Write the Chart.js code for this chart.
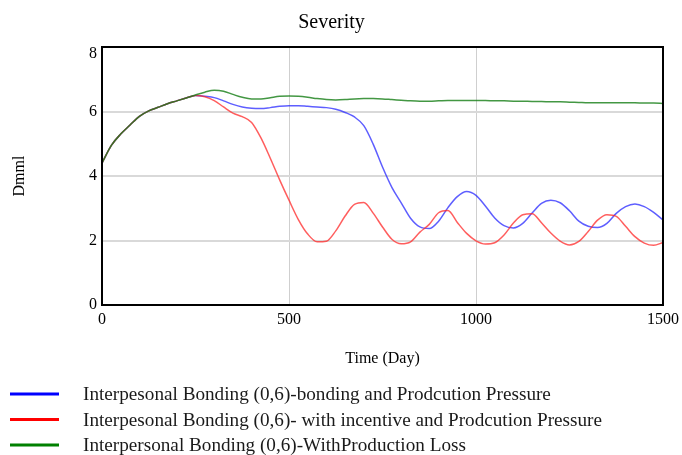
<!DOCTYPE html>
<html>
<head>
<meta charset="utf-8">
<title>Severity</title>
<script src="https://cdn.jsdelivr.net/npm/chart.js@4.4.1/dist/chart.umd.min.js"></script>
<style>
  html, body { margin: 0; padding: 0; background: #ffffff; }
  #wrap { width: 682px; height: 455px; }
</style>
</head>
<body>
<div id="wrap"><canvas id="chart" width="682" height="455"></canvas></div>
<script>
// Simulation time, every 25 days
const days = [
  0, 25, 50, 75, 100, 125, 150, 175, 200, 225,
  250, 275, 300, 325, 350, 375, 400, 425, 450, 475,
  500, 525, 550, 575, 600, 625, 650, 675, 700, 725,
  750, 775, 800, 825, 850, 875, 900, 925, 950, 975,
  1000, 1025, 1050, 1075, 1100, 1125, 1150, 1175, 1200, 1225,
  1250, 1275, 1300, 1325, 1350, 1375, 1400, 1425, 1450, 1475,
  1500
];

// Severity (Dmnl) per scenario
const bondingPressure = [
  4.40, 4.95, 5.30, 5.58, 5.85, 6.02, 6.13, 6.24, 6.33, 6.42,
  6.50, 6.47, 6.43, 6.33, 6.22, 6.14, 6.10, 6.09, 6.12, 6.16,
  6.18, 6.18, 6.16, 6.14, 6.12, 6.07, 5.97, 5.83, 5.56, 4.99,
  4.28, 3.65, 3.17, 2.69, 2.42, 2.37, 2.60, 3.02, 3.36, 3.52,
  3.40, 3.07, 2.70, 2.46, 2.39, 2.53, 2.85, 3.15, 3.25, 3.17,
  2.92, 2.60, 2.44, 2.40, 2.53, 2.84, 3.05, 3.13, 3.05, 2.87,
  2.64
];

const incentivePressure = [
  4.40, 4.95, 5.30, 5.58, 5.85, 6.02, 6.13, 6.24, 6.33, 6.42,
  6.50, 6.46, 6.34, 6.14, 5.95, 5.84, 5.66, 5.18, 4.55, 3.88,
  3.25, 2.65, 2.20, 1.96, 1.98, 2.30, 2.76, 3.12, 3.18, 2.85,
  2.42, 2.04, 1.90, 1.96, 2.26, 2.50, 2.86, 2.93, 2.56, 2.22,
  1.99, 1.89, 1.93, 2.17, 2.54, 2.80, 2.83, 2.55, 2.23, 1.98,
  1.86, 1.97, 2.28, 2.63, 2.80, 2.75, 2.44, 2.12, 1.92, 1.85,
  1.94
];

const productionLoss = [
  4.40, 4.95, 5.30, 5.58, 5.85, 6.02, 6.13, 6.24, 6.33, 6.42,
  6.51, 6.60, 6.66, 6.63, 6.53, 6.44, 6.39, 6.39, 6.43, 6.47,
  6.48, 6.47, 6.44, 6.40, 6.37, 6.36, 6.37, 6.39, 6.40, 6.40,
  6.39, 6.37, 6.35, 6.33, 6.32, 6.32, 6.33, 6.34, 6.34, 6.34,
  6.34, 6.34, 6.33, 6.33, 6.32, 6.32, 6.31, 6.31, 6.30, 6.30,
  6.29, 6.28, 6.27, 6.27, 6.27, 6.27, 6.27, 6.27, 6.26, 6.26,
  6.25
];

const seriesLabels = [
  'Interpesonal Bonding (0,6)-bonding and Prodcution Pressure',
  'Interpesonal Bonding (0,6)- with incentive and Prodcution Pressure',
  'Interpersonal Bonding (0,6)-WithProduction Loss'
];

const xTicks = [0, 500, 1000, 1500];
const yTicks = [0, 2, 4, 6, 8];

const lineColors = ['rgba(40,40,255,0.75)', 'rgba(255,40,40,0.75)', 'rgba(20,125,20,0.8)'];
const keyColors = ['#0000ff', '#ff0000', '#008000'];
// green on top, blue underneath
const drawOrder = [2, 1, 0];

const serif = '"Liberation Serif", "Times New Roman", serif';

function toPoints(values) {
  return days.map((d, i) => ({ x: d, y: values[i] }));
}

// Boxed plot frame drawn over the curves
const framePlugin = {
  id: 'plotFrame',
  afterDatasetsDraw(chart) {
    const { ctx, chartArea: a } = chart;
    ctx.save();
    ctx.strokeStyle = '#000000';
    ctx.lineWidth = 2;
    ctx.strokeRect(a.left, a.top, a.right - a.left, a.bottom - a.top);
    ctx.restore();
  }
};

// Stacked key beneath the axis title
const keyPlugin = {
  id: 'stackedKey',
  afterDraw(chart) {
    const ctx = chart.ctx;
    ctx.save();
    chart.data.datasets.forEach((ds, i) => {
      const y = 394 + i * 25.5;
      ctx.strokeStyle = keyColors[i];
      ctx.lineWidth = 3;
      ctx.beginPath();
      ctx.moveTo(10, y);
      ctx.lineTo(59, y);
      ctx.stroke();
      ctx.fillStyle = '#1a1a1a';
      ctx.font = '19.2px ' + serif;
      ctx.textBaseline = 'middle';
      ctx.textAlign = 'left';
      ctx.fillText(ds.label, 83, y + 1);
    });
    ctx.restore();
  }
};

const datasets = [bondingPressure, incentivePressure, productionLoss].map((vals, i) => ({
  label: seriesLabels[i],
  data: toPoints(vals),
  borderColor: lineColors[i],
  backgroundColor: lineColors[i],
  borderWidth: 1.5,
  pointRadius: 0,
  fill: false,
  order: drawOrder[i],
  cubicInterpolationMode: 'monotone'
}));

new Chart(document.getElementById('chart'), {
  type: 'line',
  data: { datasets },
  plugins: [framePlugin, keyPlugin],
  options: {
    responsive: false,
    animation: false,
    devicePixelRatio: 1,
    layout: { padding: { left: 0, right: 19, top: 0, bottom: 87 } },
    plugins: {
      legend: { display: false },
      tooltip: { enabled: false },
      title: {
        display: true,
        text: 'Severity',
        color: '#000000',
        font: { family: serif, size: 20, weight: 'normal', lineHeight: 1.2 },
        padding: { top: 10.5, bottom: 12.5 }
      }
    },
    scales: {
      x: {
        type: 'linear',
        min: 0,
        max: 1500,
        afterBuildTicks(scale) { scale.ticks = xTicks.map(v => ({ value: v })); },
        afterFit(scale) {
          scale.height = 63;
          scale.paddingLeft = 0;
          scale.paddingRight = 0;
        },
        border: { display: false },
        grid: { color: '#cfcfcf', lineWidth: 1, drawTicks: false },
        ticks: {
          color: '#000000',
          padding: 5,
          maxRotation: 0,
          font: { family: serif, size: 16 },
          callback: v => String(v)
        },
        title: {
          display: true,
          text: 'Time (Day)',
          color: '#000000',
          font: { family: serif, size: 16 },
          padding: { top: 0, bottom: 0 }
        }
      },
      y: {
        type: 'linear',
        min: 0,
        max: 8,
        afterBuildTicks(scale) { scale.ticks = yTicks.map(v => ({ value: v })); },
        afterFit(scale) { scale.width = 102; },
        border: { display: false },
        grid: { color: '#d9d9d9', lineWidth: 2, drawTicks: false },
        ticks: {
          color: '#000000',
          padding: 5,
          font: { family: serif, size: 16, lineHeight: 0.9 },
          // the top label sits just inside the frame
          callback: v => (v === 8 ? ['', '8'] : String(v))
        },
        title: {
          display: true,
          text: 'Dmml',
          color: '#000000',
          font: { family: serif, size: 16 },
          padding: { top: 10, bottom: 0 }
        }
      }
    }
  }
});
</script>
</body>
</html>
